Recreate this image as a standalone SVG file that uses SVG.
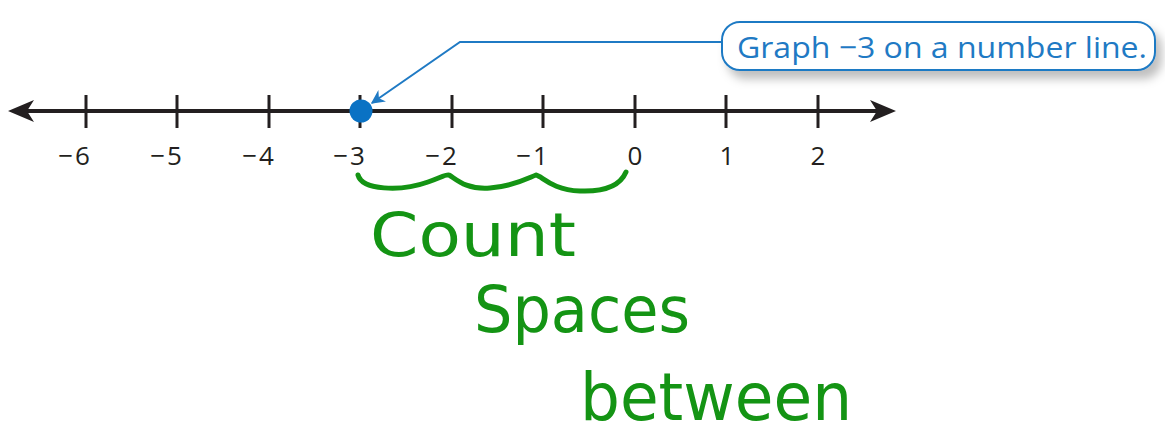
<svg xmlns="http://www.w3.org/2000/svg" width="1165" height="440" viewBox="0 0 1165 440">
<defs>
<style>
.tick{stroke:#231f20;stroke-width:3}
.num{font-family:"Open Sans","Liberation Sans",sans-serif;font-size:26px;fill:#231f20;text-anchor:middle;letter-spacing:2px}
.hw{font-family:"DejaVu Sans","Liberation Sans",sans-serif;fill:#149414}
</style>
<marker id="arr" viewBox="0 0 10 10" refX="9" refY="5" markerWidth="14" markerHeight="14" orient="auto" markerUnits="userSpaceOnUse">
<path d="M0,0 L10,5 L0,10 L3,5 Z" fill="#1f7ac4"/>
</marker>
<filter id="sh" x="-10%" y="-30%" width="125%" height="190%">
<feDropShadow dx="6" dy="8" stdDeviation="5" flood-color="#000" flood-opacity="0.25"/>
</filter>
</defs>
<rect width="1165" height="440" fill="#fff"/>
<g id="numberline">
<line x1="14" y1="111" x2="885" y2="111" stroke="#231f20" stroke-width="4"/>
<path d="M8,111 L34,100 L27,111 L34,122 Z" fill="#231f20"/>
<path d="M896,111 L870,100 L877,111 L870,122 Z" fill="#231f20"/>
<line class="tick" x1="86" y1="95" x2="86" y2="128"/>
<line class="tick" x1="177" y1="95" x2="177" y2="128"/>
<line class="tick" x1="269" y1="95" x2="269" y2="128"/>
<line class="tick" x1="360" y1="95" x2="360" y2="128"/>
<line class="tick" x1="452" y1="95" x2="452" y2="128"/>
<line class="tick" x1="543" y1="95" x2="543" y2="128"/>
<line class="tick" x1="635" y1="95" x2="635" y2="128"/>
<line class="tick" x1="726" y1="95" x2="726" y2="128"/>
<line class="tick" x1="818" y1="95" x2="818" y2="128"/>
<text class="num" x="75" y="165">−6</text>
<text class="num" x="167" y="165">−5</text>
<text class="num" x="259" y="165">−4</text>
<text class="num" x="350" y="165">−3</text>
<text class="num" x="442" y="165">−2</text>
<text class="num" x="533" y="165">−1</text>
<text class="num" x="636" y="165">0</text>
<text class="num" x="728" y="165">1</text>
<text class="num" x="819" y="165">2</text>
</g>
<g id="point">
<circle cx="361" cy="111" r="11.5" fill="#0a72c4"/>
</g>
<g id="connectors">
<polyline points="722,42 460,42 372,103" fill="none" stroke="#1f7ac4" stroke-width="2" marker-end="url(#arr)"/>
</g>
<g id="callout">
<rect x="722" y="22" width="433" height="48" rx="18" ry="18" fill="#fff" stroke="#1f7ac4" stroke-width="2" filter="url(#sh)"/>
<text x="942" y="58" font-family="'Open Sans','Liberation Sans',sans-serif" font-size="30" fill="#1f7ac4" text-anchor="middle" textLength="410" lengthAdjust="spacingAndGlyphs">Graph −3 on a number line.</text>
</g>
<g id="annotation">
<path d="M358,175 C362,190 400,192 428,182 C440,178 446,174 449,175 C455,178 465,190 490,188 C515,186 528,178 536,175 C542,176 552,190 580,191 C605,192 620,186 626,172" fill="none" stroke="#149414" stroke-width="5" stroke-linecap="round" stroke-linejoin="round"/>
<text class="hw" x="370" y="256" font-size="60" textLength="206" lengthAdjust="spacingAndGlyphs">Count</text>
<text class="hw" x="474" y="332" font-size="64" textLength="216" lengthAdjust="spacingAndGlyphs">Spaces</text>
<text class="hw" x="580" y="420" font-size="66" textLength="272" lengthAdjust="spacingAndGlyphs">between</text>
</g>
</svg>
